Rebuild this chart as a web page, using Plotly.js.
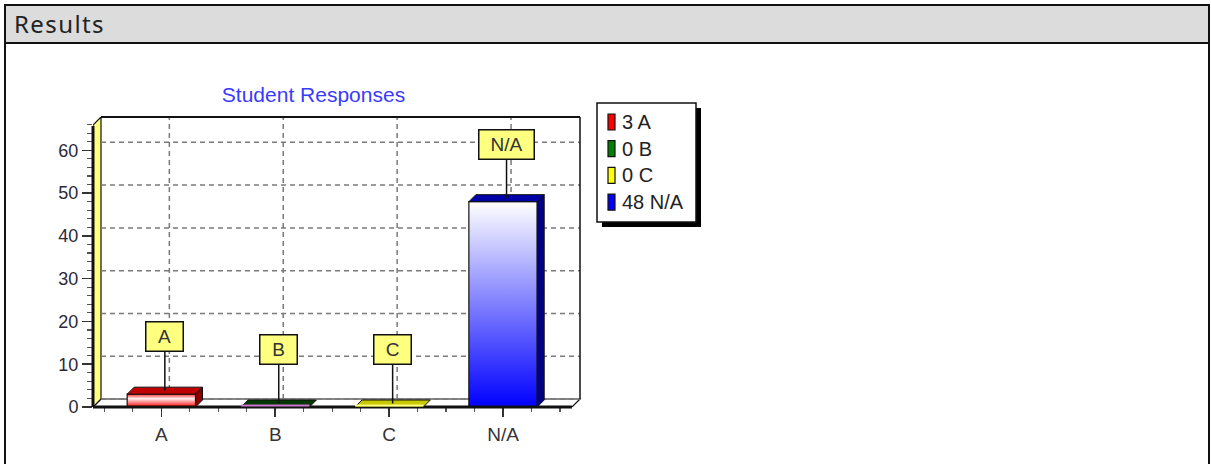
<!DOCTYPE html>
<html>
<head>
<meta charset="utf-8">
<script src="https://cdn.plot.ly/plotly-3.0.1.min.js"></script>
<style>
  html, body { margin:0; padding:0; background:#ffffff; width:1211px; height:464px; overflow:hidden; }
  #header { position:absolute; left:4px; top:4px; width:1206px; height:40px; box-sizing:border-box;
            border:2px solid #111; background:#dcdcdc; }
  #header span { position:absolute; left:8px; top:1px; font-family:"Noto Sans", sans-serif; font-size:24px;
                 letter-spacing:1.4px; color:#222; }
  .side { position:absolute; top:44px; width:2px; height:420px; background:#111; }
  #chart { position:absolute; left:0; top:0; width:1211px; height:464px; }
</style>
</head>
<body>
<div id="header"><span>Results</span></div>
<div class="side" style="left:4px"></div>
<div class="side" style="left:1208px"></div>
<div id="chart"></div>
<script>
// ---- data ----
const categories = ['A', 'B', 'C', 'N/A'];
const counts = [3, 0, 0, 48];
const yTickVals = [0, 10, 20, 30, 40, 50, 60];
const chartTitle = 'Student Responses';

// ---- styles ----
const topColors   = ['#c00000', '#003800', '#c8c800', '#0000a8'];
const sideColors  = ['#880000', '#002400', '#8c8c00', '#000080'];
const edgeColors  = ['#ff0000', '#d070d0', '#ffff80', '#0000ff'];
const legendColors = ['#ff0000', '#008000', '#ffff00', '#0000ff'];
const gradStops = [
  [['0%', '#ff3030'], ['35%', '#fff0f0'], ['100%', '#ff0000']],
  [['0%', '#ffffff'], ['100%', '#d070d0']],
  [['0%', '#ffffff'], ['100%', '#ffff00']],
  [['0%', '#ffffff'], ['100%', '#0000ff']]
];
const FONT = 'Liberation Sans, Arial, sans-serif';

// geometry (pixels -> units)
const L = 93, R = 583, T = 117, B = 407;
const pxX = 113.9, pxY = 4.278;
const xr0 = -0.6, xr1 = xr0 + (R - L) / pxX;
const yr1 = (B - T) / pxY;
const WDX = 8 / pxX, WDY = 8 / pxY;     // wall / grid depth
const BDX = 7 / pxX, BDY = 7 / pxY;     // bar depth
const xFront1 = xr0 + (572 - L) / pxX;  // front floor end
const barW = 0.6;

const xp = px => (px - L) / (R - L);
const yp = py => (B - py) / (B - T);

const shapes = [];
// floor
shapes.push({type:'path', layer:'below', xref:'x', yref:'y',
  path:`M ${xr0},0 L ${xFront1},0 L ${xFront1+WDX},${WDY} L ${xr0+WDX},${WDY} Z`,
  fillcolor:'#ffffff', line:{color:'#111', width:1.2}});
// left wall
shapes.push({type:'path', layer:'below', xref:'x', yref:'y',
  path:`M ${xr0},0 L ${xr0},${yr1-WDY} L ${xr0+WDX},${yr1} L ${xr0+WDX},${WDY} Z`,
  fillcolor:'#ffff80', line:{color:'#111', width:1.2}});
// grid: horizontal
yTickVals.forEach(v => {
  shapes.push({type:'line', layer:'below', xref:'x', yref:'y',
    x0:xr0+WDX, x1:xFront1+WDX, y0:v+WDY, y1:v+WDY,
    line:{color:'#7a7a7a', width:1.5, dash:'5px,4px'}});
});
// grid: vertical
categories.forEach((c, i) => {
  shapes.push({type:'line', layer:'below', xref:'x', yref:'y',
    x0:i+WDX, x1:i+WDX, y0:WDY, y1:yr1,
    line:{color:'#7a7a7a', width:1.5, dash:'5px,4px'}});
});
// back plane border (top line at the plot edge -> paper coords so it is not clipped)
shapes.push({type:'line', layer:'above', xref:'paper', yref:'paper',
  x0:xp(L + 8), x1:xp(580), y0:1, y1:1, line:{color:'#111', width:2}});
shapes.push({type:'line', layer:'below', xref:'x', yref:'y',
  x0:xFront1+WDX, x1:xFront1+WDX, y0:WDY, y1:yr1, line:{color:'#111', width:1.5}});
// front axis edges (paper coords, not clipped)
shapes.push({type:'line', layer:'above', xref:'paper', yref:'paper',
  x0:0, x1:0, y0:0, y1:yp(126), line:{color:'#111', width:3}});
shapes.push({type:'line', layer:'above', xref:'paper', yref:'paper',
  x0:0, x1:xp(572), y0:0, y1:0, line:{color:'#111', width:3}});

// bar top and side faces
counts.forEach((v, i) => {
  const a = i - barW / 2, b = i + barW / 2;
  shapes.push({type:'path', layer:'above', xref:'x', yref:'y',
    path:`M ${a},${v} L ${b},${v} L ${b+BDX},${v+BDY} L ${a+BDX},${v+BDY} Z`,
    fillcolor:topColors[i], line:{color:'#111', width:1}});
  if (v > 0) {
    shapes.push({type:'path', layer:'above', xref:'x', yref:'y',
      path:`M ${b},0 L ${b},${v} L ${b+BDX},${v+BDY} L ${b+BDX},${BDY} Z`,
      fillcolor:sideColors[i], line:{color:'#111', width:1}});
  } else {
    shapes.push({type:'line', layer:'above', xref:'x', yref:'y',
      x0:a, x1:b, y0:v + 0.35, y1:v + 0.35, line:{color:edgeColors[i], width:2}});
  }
});

// legend (custom)
const lgL = 597, lgT = 103, lgR = 696, lgB = 222;
shapes.push({type:'rect', xref:'paper', yref:'paper', layer:'above',
  x0:xp(lgL+5), x1:xp(lgR+5), y0:yp(lgB+5), y1:yp(lgT+5), fillcolor:'#000', line:{width:0}});
shapes.push({type:'rect', xref:'paper', yref:'paper', layer:'above',
  x0:xp(lgL), x1:xp(lgR), y0:yp(lgB), y1:yp(lgT), fillcolor:'#fff', line:{color:'#111', width:1.5}});

const annotations = [];
categories.forEach((c, i) => {
  const cy = 122 + i * 26.7;
  shapes.push({type:'rect', xref:'paper', yref:'paper', layer:'above',
    x0:xp(608), x1:xp(615), y0:yp(cy+8), y1:yp(cy-8),
    fillcolor:legendColors[i], line:{color:'#111', width:1.2}});
  annotations.push({xref:'paper', yref:'paper', x:xp(620), y:yp(cy), xanchor:'left', yanchor:'middle',
    text:`${counts[i]} ${c}`, showarrow:false,
    font:{family:FONT, size:20, color:'#222'}});
});

// callout labels
categories.forEach((c, i) => {
  annotations.push({xref:'x', yref:'y', x:i + BDX / 2, y:counts[i] + BDY / 2,
    text:c, showarrow:true, arrowhead:0, arrowwidth:1.5, arrowcolor:'#111',
    ax:0, ay:-54, standoff:0,
    bgcolor:'#ffff80', bordercolor:'#111', borderwidth:1.5, borderpad:2,
    width: c.length > 1 ? 50 : 32, height:24,
    font:{family:FONT, size:19, color:'#333'}});
});

const trace = {
  type:'bar', x:categories.map((c, i) => i), y:counts, width:barW,
  marker:{color:edgeColors, line:{color:'#111', width:1.2}},
  hoverinfo:'skip', showlegend:false
};

const layout = {
  width:1211, height:464,
  margin:{l:L, r:1211 - R, t:T, b:464 - B, pad:0},
  paper_bgcolor:'rgba(0,0,0,0)', plot_bgcolor:'rgba(0,0,0,0)',
  showlegend:false,
  title:{text:chartTitle, xref:'container', yref:'container', x:313.5/1211, y:1 - 95/464,
         xanchor:'center', yanchor:'middle',
         font:{family:FONT, size:21, color:'#3a3aff'}},
  xaxis:{type:'linear', range:[xr0, xr1], tickmode:'array',
         tickvals:categories.map((c, i) => i), ticktext:categories,
         showgrid:false, zeroline:false, showline:false,
         ticks:'outside', ticklen:9, tickwidth:1.5, tickcolor:'#333',
         ticklabelstandoff:1,
         minor:{tickmode:'linear', tick0:0, dtick:0.25, ticks:'outside', ticklen:4, tickwidth:1.2, tickcolor:'#555', showgrid:false},
         tickfont:{family:FONT, size:19, color:'#333'}, fixedrange:true},
  yaxis:{range:[0, yr1], tickmode:'array', tickvals:yTickVals,
         showgrid:false, zeroline:false, showline:false,
         ticks:'outside', ticklen:10, tickwidth:1.5, tickcolor:'#333',
         minor:{tickmode:'linear', tick0:0, dtick:2, ticks:'outside', ticklen:5, tickwidth:1.2, tickcolor:'#555', showgrid:false},
         tickfont:{family:FONT, size:18, color:'#2a2a3a'}, fixedrange:true},
  shapes:shapes, annotations:annotations, bargap:0
};

Plotly.newPlot('chart', [trace], layout, {displayModeBar:false, staticPlot:true}).then(gd => {
  const svg = gd.querySelector('svg.main-svg');
  const NS = 'http://www.w3.org/2000/svg';
  let defs = svg.querySelector('defs');
  if (!defs) { defs = document.createElementNS(NS, 'defs'); svg.insertBefore(defs, svg.firstChild); }
  gradStops.forEach((stops, i) => {
    const g = document.createElementNS(NS, 'linearGradient');
    g.setAttribute('id', 'barGrad' + i);
    g.setAttribute('x1', '0'); g.setAttribute('y1', '0'); g.setAttribute('x2', '0'); g.setAttribute('y2', '1');
    stops.forEach(s => {
      const st = document.createElementNS(NS, 'stop');
      st.setAttribute('offset', s[0]); st.setAttribute('stop-color', s[1]);
      g.appendChild(st);
    });
    defs.appendChild(g);
  });
  gd.querySelectorAll('.barlayer .point path').forEach((p, i) => {
    p.style.fill = 'url(#barGrad' + i + ')';
  });
});
</script>
</body>
</html>
